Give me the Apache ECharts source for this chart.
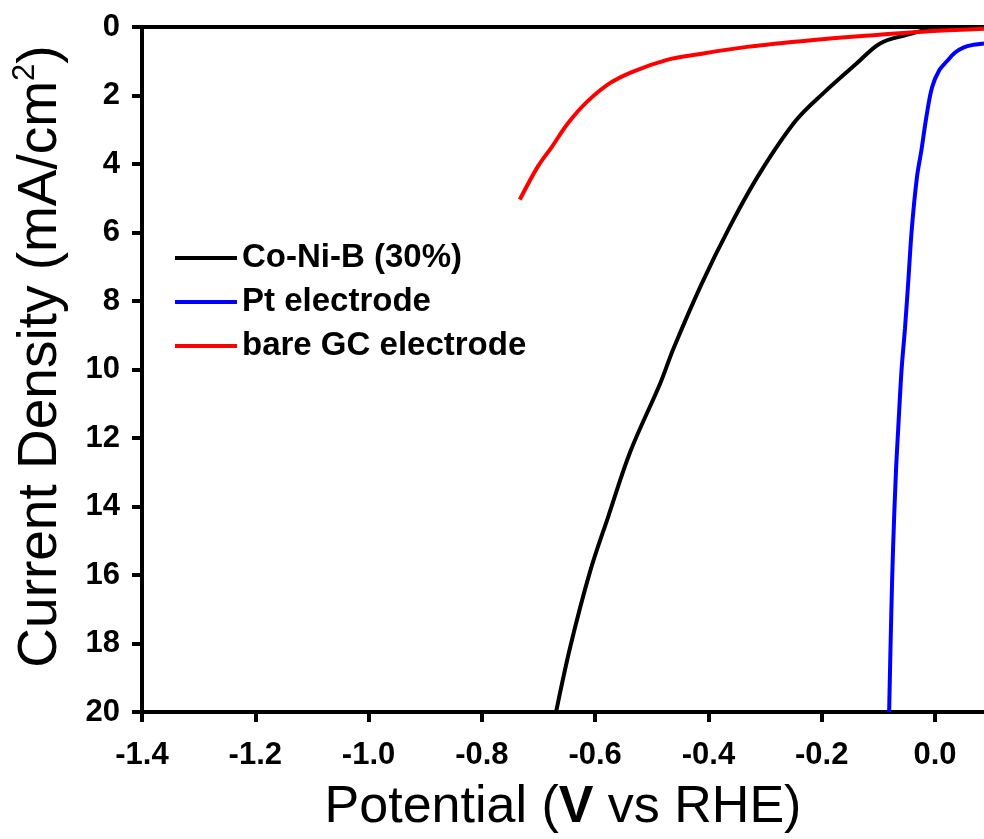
<!DOCTYPE html>
<html>
<head>
<meta charset="utf-8">
<script src="https://cdn.jsdelivr.net/npm/echarts@6/dist/echarts.min.js"></script>
<style>
  html, body { margin: 0; padding: 0; background: #fff; }
  #main { width: 984px; height: 839px; }
</style>
</head>
<body>
<div id="main"></div>
<script>
// potential (V vs RHE) and current density (mA/cm2)
var coNiB = [
    [-0.669, 20], [-0.644, 18.1], [-0.609, 15.9], [-0.577, 14.3], [-0.538, 12.4],
    [-0.485, 10.4], [-0.462, 9.4], [-0.412, 7.5], [-0.362, 5.82], [-0.309, 4.26],
    [-0.246, 2.74], [-0.197, 1.93], [-0.138, 1.06], [-0.097, 0.48], [-0.050, 0.23],
    [-0.015, 0.09], [0.02, 0.03], [0.0865, 0.0]
];
var ptElectrode = [
    [-0.081, 20], [-0.077, 17], [-0.074, 15.2], [-0.069, 13], [-0.065, 11.75],
    [-0.059, 10], [-0.053, 8.8], [-0.047, 7.38], [-0.041, 5.9], [-0.032, 4.4],
    [-0.024, 3.6], [-0.015, 2.6], [-0.005, 1.75], [0.008, 1.25], [0.021, 1.0],
    [0.035, 0.75], [0.05, 0.6], [0.068, 0.52], [0.0865, 0.48]
];
var bareGC = [
    [-0.733, 5.04], [-0.701, 4.07], [-0.676, 3.49], [-0.648, 2.81], [-0.614, 2.18],
    [-0.574, 1.64], [-0.533, 1.30], [-0.473, 0.96], [-0.427, 0.82], [-0.332, 0.58],
    [-0.215, 0.38], [-0.115, 0.25], [-0.003, 0.12], [0.0865, 0.05]
];
var seriesNames = ['Co-Ni-B (30%)', 'Pt electrode', 'bare GC electrode'];
var xTicks = [-1.4, -1.2, -1.0, -0.8, -0.6, -0.4, -0.2, 0.0];

var font = 'Arial, "Liberation Sans", sans-serif';
var chart = echarts.init(document.getElementById('main'));

function lineSeries(name, data, color) {
    return {
        name: name,
        type: 'line',
        data: data,
        showSymbol: false,
        smooth: 0.35,
        clip: true,
        lineStyle: { color: color, width: 4 },
        itemStyle: { color: color }
    };
}

var option = {
    animation: false,
    backgroundColor: '#fff',
    grid: { left: 142, right: 0, top: 27, bottom: 126 },
    legend: {
        orient: 'vertical',
        left: 170,
        top: 234,
        icon: 'rect',
        itemWidth: 62,
        itemHeight: 4,
        itemGap: 6,
        data: seriesNames,
        textStyle: { fontFamily: font, fontWeight: 'bold', fontSize: 33, lineHeight: 38, color: '#000' }
    },
    xAxis: [{
        type: 'value',
        min: -1.4,
        max: 0.0865,
        position: 'bottom',
        name: '{n|Potential (}{b|V}{n| vs RHE)}',
        nameLocation: 'middle',
        nameGap: 70,
        nameTextStyle: {
            rich: {
                n: { fontFamily: font, fontSize: 52, color: '#000' },
                b: { fontFamily: font, fontSize: 52, fontWeight: 'bold', color: '#000' }
            }
        },
        axisLine: { onZero: false, lineStyle: { color: '#000', width: 4 } },
        axisTick: { customValues: xTicks, length: 10, lineStyle: { color: '#000', width: 4 } },
        axisLabel: {
            customValues: xTicks,
            margin: 28,
            fontFamily: font, fontWeight: 'bold', fontSize: 31, color: '#000',
            formatter: function (v) { return v.toFixed(1); }
        },
        splitLine: { show: false }
    }, {
        type: 'value',
        min: -1.4,
        max: 0.0865,
        position: 'top',
        axisLine: { onZero: false, lineStyle: { color: '#000', width: 4 } },
        axisTick: { show: false },
        axisLabel: { show: false },
        splitLine: { show: false }
    }],
    yAxis: {
        type: 'value',
        inverse: true,
        min: 0,
        max: 20,
        interval: 2,
        name: '{n|Current Density (mA/cm}{s|2}{n|)}',
        nameLocation: 'middle',
        nameRotate: 90,
        nameGap: 70,
        nameTextStyle: {
            padding: [0, 0, 0, 26],
            rich: {
                n: { fontFamily: font, fontSize: 55, color: '#000', lineHeight: 62 },
                s: { fontFamily: font, fontSize: 31, color: '#000', verticalAlign: 'top', lineHeight: 62, padding: [0, 0, 27, 0] }
            }
        },
        axisLine: { onZero: false, lineStyle: { color: '#000', width: 4 } },
        axisTick: { length: 10, lineStyle: { color: '#000', width: 4 } },
        axisLabel: { margin: 22, fontFamily: font, fontWeight: 'bold', fontSize: 31, color: '#000' },
        splitLine: { show: false }
    },
    series: [
        lineSeries(seriesNames[0], coNiB, '#000000'),
        lineSeries(seriesNames[1], ptElectrode, '#0000ff'),
        lineSeries(seriesNames[2], bareGC, '#ff0000')
    ]
};

chart.setOption(option);
</script>
</body>
</html>
